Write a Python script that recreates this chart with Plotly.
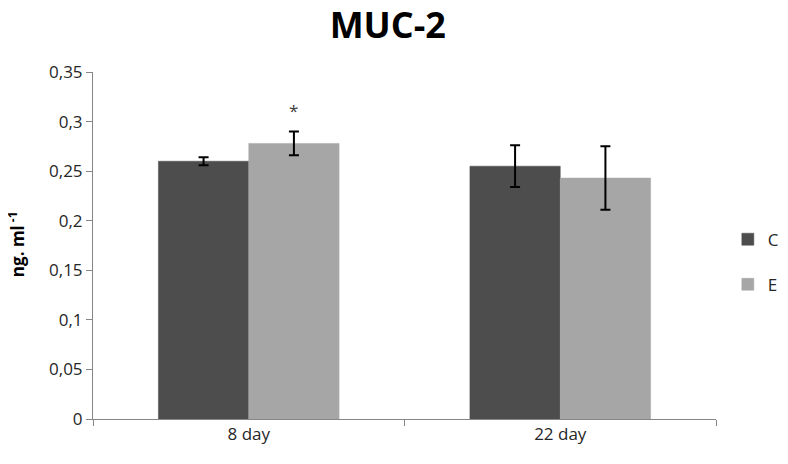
import plotly.graph_objects as go

categories = ["8 day", "22 day"]
c_values = [0.260, 0.255]
c_errors = [0.004, 0.021]
e_values = [0.278, 0.243]
e_errors = [0.012, 0.032]
y_ticks = [0, 0.05, 0.1, 0.15, 0.2, 0.25, 0.3, 0.35]

font_family = "Open Sans, Liberation Sans, sans-serif"
axis_color = "#868686"
text_color = "#262626"

fig = go.Figure()
fig.add_trace(go.Bar(
    name="C", x=categories, y=c_values, legendgroup="C",
    marker=dict(color="#4d4d4d", line=dict(color="#4d4d4d", width=0.5)),
    error_y=dict(type="data", array=c_errors, color="black", thickness=2, width=5),
))
fig.add_trace(go.Bar(
    name="E", x=categories, y=e_values, legendgroup="E",
    marker=dict(color="#a6a6a6", line=dict(color="#a6a6a6", width=0.5)),
    error_y=dict(type="data", array=e_errors, color="black", thickness=2, width=5),
))

fig.add_annotation(x=categories[0], y=0.311, text="*", showarrow=False,
                   xref="x", yref="y", xshift=45,
                   font=dict(size=17, color="#404040", family=font_family))

fig.add_annotation(x=-0.123, y=0.505, xref="paper", yref="paper", showarrow=False,
                   text="<b>ng. ml<sup> -1</sup></b>", textangle=-90,
                   xanchor="center", yanchor="middle",
                   font=dict(size=17, color="black", family=font_family))

fig.update_layout(
    width=788, height=456,
    margin=dict(l=85, r=78, t=64, b=45),
    plot_bgcolor="white", paper_bgcolor="white",
    separators=", ",
    barmode="group", bargap=0.42, bargroupgap=0,
    title=dict(text="<b>MUC-2</b>", x=0.482, xanchor="center", y=0.962, yanchor="middle",
               font=dict(size=36, color="black", family=font_family)),
    font=dict(family=font_family, size=17, color=text_color),
    legend=dict(xref="paper", yref="paper", x=1.019, y=0.452,
                xanchor="left", yanchor="middle",
                font=dict(size=17), tracegroupgap=20, itemwidth=30),
    xaxis=dict(showline=True, linecolor=axis_color, linewidth=1, automargin=False,
               ticks="outside", tickson="boundaries", tickcolor=axis_color, ticklen=6,
               showgrid=False, tickfont=dict(size=17)),
    yaxis=dict(range=[0, 0.35], tickvals=y_ticks, showline=True, linecolor=axis_color,
               linewidth=1, ticks="outside", tickcolor=axis_color, ticklen=6, automargin=False,
               showgrid=False, zeroline=False, tickfont=dict(size=17)),
)

fig.write_html("out.html")
